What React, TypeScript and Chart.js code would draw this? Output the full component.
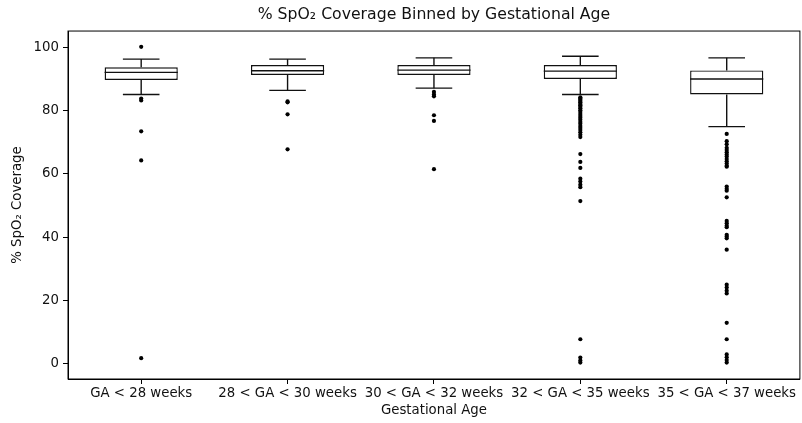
import React, { useEffect, useRef } from "react";
import { Chart, registerables } from "chart.js";

Chart.register(...registerables);

// Gestational age bins
const categories = [
  "GA < 28 weeks",
  "28 < GA < 30 weeks",
  "30 < GA < 32 weeks",
  "32 < GA < 35 weeks",
  "35 < GA < 37 weeks",
];

// Box statistics per bin (% SpO2 coverage)
const q1 = [89.8, 91.4, 91.4, 90.1, 85.2];
const median = [92.2, 92.7, 92.9, 92.6, 90.1];
const q3 = [93.8, 94.5, 94.5, 94.5, 92.8];
const whiskerLow = [85.2, 86.5, 87.2, 85.2, 75.0];
const whiskerHigh = [96.4, 96.4, 96.8, 97.3, 96.8];

// Outliers per bin
const outliersGA28 = [100.3, 83.9, 83.3, 73.5, 64.3, 1.6];
const outliersGA30 = [83.0, 82.7, 78.9, 67.8];
const outliersGA32 = [86.0, 85.2, 84.6, 78.6, 76.8, 61.5];
const outliersGA35 = [
  84.3, 83.9, 83.5, 83.1, 82.7, 82.2, 81.8, 81.3, 80.8, 80.2, 79.6, 79.0,
  78.4, 77.8, 77.2, 76.5, 75.9, 75.2, 74.6, 73.9, 73.2, 72.4, 71.7, 66.3,
  63.8, 61.9, 58.5, 57.6, 56.6, 55.8, 51.4, 7.6, 1.8, 0.9, 0.2,
];
const outliersGA37 = [
  72.7, 70.4, 69.4, 68.3, 67.6, 66.9, 66.2, 65.5, 64.7, 64.0, 63.3, 62.6,
  62.3, 56.0, 55.3, 54.7, 52.6, 45.1, 44.4, 43.6, 43.1, 40.7, 40.2, 39.6,
  36.0, 24.9, 24.0, 23.0, 22.1, 12.8, 7.6, 2.8, 1.9, 1.0, 0.2,
];
const outliers = [outliersGA28, outliersGA30, outliersGA32, outliersGA35, outliersGA37];

const yTicks = [0, 20, 40, 60, 80, 100];

const FONT = "'DejaVu Sans', sans-serif";
const INK = "#111";
const TICK_SIZE = 13.3;
const BOX_LINE = 1.4;

// Whiskers, caps, medians and the top/right spines
const boxWhiskers = {
  id: "boxWhiskers",
  afterDatasetsDraw(chart: any) {
    const { ctx, chartArea } = chart;
    const xs = chart.scales.x;
    const ys = chart.scales.y;
    const step = xs.getPixelForValue(1) - xs.getPixelForValue(0);
    const boxHalf = step * 0.25;
    const capHalf = boxHalf / 2;
    ctx.save();
    ctx.strokeStyle = INK;
    ctx.lineWidth = BOX_LINE;
    const seg = (x1: number, y1: number, x2: number, y2: number) => {
      ctx.beginPath();
      ctx.moveTo(x1, y1);
      ctx.lineTo(x2, y2);
      ctx.stroke();
    };
    categories.forEach((_, i) => {
      const cx = xs.getPixelForValue(i);
      const yq1 = ys.getPixelForValue(q1[i]);
      const yq3 = ys.getPixelForValue(q3[i]);
      const yLo = ys.getPixelForValue(whiskerLow[i]);
      const yHi = ys.getPixelForValue(whiskerHigh[i]);
      const yMed = ys.getPixelForValue(median[i]);
      seg(cx, yq3, cx, yHi);
      seg(cx, yq1, cx, yLo);
      seg(cx - capHalf, yHi, cx + capHalf, yHi);
      seg(cx - capHalf, yLo, cx + capHalf, yLo);
      seg(cx - boxHalf, yMed, cx + boxHalf, yMed);
    });
    ctx.lineWidth = 1;
    ctx.strokeStyle = "#000";
    ctx.strokeRect(
      chartArea.left,
      chartArea.top,
      chartArea.right - chartArea.left,
      chartArea.bottom - chartArea.top
    );
    ctx.restore();
  },
};

export default function App() {
  const canvasRef = useRef<HTMLCanvasElement | null>(null);

  useEffect(() => {
    document.body.style.margin = "0";
    const canvas = canvasRef.current;
    if (!canvas) return;

    // Outliers are placed on the category axis by their bin label
    const outlierPoints: { x: string; y: number }[] = [];
    outliers.forEach((list, i) =>
      list.forEach((v) => outlierPoints.push({ x: categories[i], y: v }))
    );

    const chart = new Chart(canvas, {
      type: "bar",
      data: {
        labels: categories,
        datasets: [
          {
            type: "bar",
            data: categories.map((_, i) => [q1[i], q3[i]]),
            backgroundColor: "#ffffff",
            borderColor: INK,
            borderWidth: BOX_LINE,
            borderSkipped: false,
            barPercentage: 0.5,
            categoryPercentage: 1,
          } as any,
          {
            type: "scatter",
            data: outlierPoints,
            backgroundColor: "#000",
            borderWidth: 0,
            pointRadius: 2.1,
            pointHoverRadius: 2.1,
          } as any,
        ],
      },
      options: {
        responsive: true,
        maintainAspectRatio: false,
        animation: false,
        events: [],
        layout: { padding: { left: 0, right: 2, top: 0, bottom: 0 } },
        plugins: {
          legend: { display: false },
          tooltip: { enabled: false },
          title: {
            display: true,
            fullSize: false,
            text: "% SpO₂ Coverage Binned by Gestational Age",
            color: INK,
            font: { family: FONT, size: 15.7, weight: "normal" },
            padding: { top: 6, bottom: 6.2 },
          },
        },
        scales: {
          x: {
            type: "category",
            offset: true,
            grid: {
              offset: false,
              drawOnChartArea: false,
              drawTicks: true,
              tickLength: 5,
              color: "#000",
            },
            border: { display: true, color: "#000", width: 1 },
            ticks: {
              color: INK,
              font: { family: FONT, size: TICK_SIZE },
              padding: 2,
              maxRotation: 0,
              minRotation: 0,
              autoSkip: false,
            },
            title: {
              display: true,
              text: "Gestational Age",
              color: INK,
              font: { family: FONT, size: TICK_SIZE },
              padding: { top: 0, bottom: 4 },
            },
            afterFit: (scale: any) => {
              scale.height = 44;
            },
          },
          y: {
            type: "linear",
            min: -5,
            max: 105.3,
            grid: {
              drawOnChartArea: false,
              drawTicks: true,
              tickLength: 5,
              color: "#000",
            },
            border: { display: true, color: "#000", width: 1 },
            ticks: {
              color: INK,
              font: { family: FONT, size: TICK_SIZE },
              padding: 4,
            },
            afterBuildTicks: (scale: any) => {
              scale.ticks = yTicks.map((v) => ({ value: v }));
            },
            title: {
              display: true,
              text: "% SpO₂ Coverage",
              color: INK,
              font: { family: FONT, size: TICK_SIZE },
              padding: { top: 10, bottom: 0 },
            },
            afterFit: (scale: any) => {
              scale.width = 68;
            },
          },
        },
      },
      plugins: [boxWhiskers],
    });

    return () => chart.destroy();
  }, []);

  return (
    <div style={{ position: "relative", width: "802px", height: "423px" }}>
      <canvas ref={canvasRef} />
    </div>
  );
}
